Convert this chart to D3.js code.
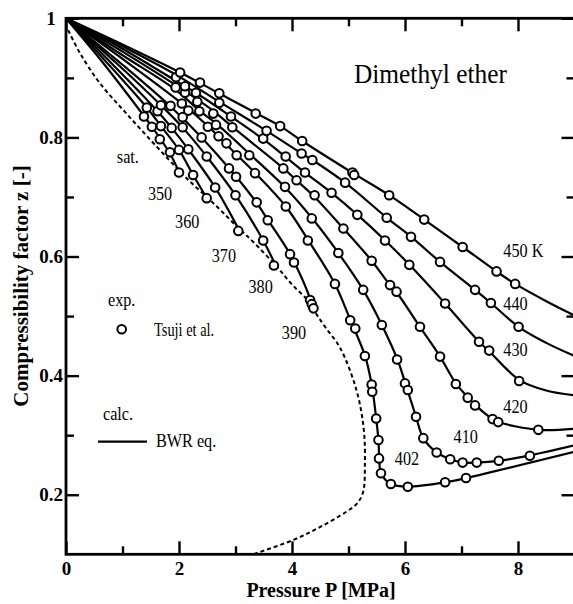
<!DOCTYPE html>
<html>
<head>
<meta charset="utf-8">
<script src="https://cdn.jsdelivr.net/npm/d3@7"></script>
<style>
  body { margin: 0; background: #fff; }
  svg text { font-family: "Liberation Serif", "Times New Roman", Times, serif; fill: #000; }
</style>
</head>
<body>
<svg id="chart" width="573" height="604" font-family="Liberation Serif, serif"></svg>
<script>
// calculated isotherms (BWR eq.), [P MPa, z]
const bwr350 = [[0,1],[0.7,.920],[1.38,.836],[1.52,.818],[1.66,.799],[1.84,.773],[2.0,.742]];
const bwr360 = [[0,1],[0.7,.928],[1.43,.850],[1.68,.819],[2.0,.779],[2.25,.737],[2.5,.697]];
const bwr370 = [[0,1],[0.8,.925],[1.62,.844],[1.87,.816],[2.165,.780],[2.64,.716],[3.06,.645]];
const bwr380 = [[0,1],[0.9,.924],[1.68,.854],[2.07,.816],[2.49,.768],[3.0,.703],[3.49,.627],[3.72,.583]];
const bwr390 = [[0,1],[1,.922],[1.85,.852],[2.4,.800],[2.95,.741],[3.375,.690],[3.57,.662],[3.965,.604],[4.2,.558],[4.39,.512]];
const bwr402 = [[0,1],[1,.932],[2.05,.857],[2.5,.820],[3.02,.771],[3.35,.740],[3.89,.684],[4.29,.627],[4.76,.554],[5.03,.494],
  [5.29,.434],[5.41,.385],[5.49,.328],[5.53,.292],[5.545,.261],[5.575,.236],[5.75,.218],[6.05,.2135],[6.71,.221],[7.08,.228],[9,.272]];
const bwr410 = [[0,1],[1,.938],[1.94,.880],[2.36,.845],[2.66,.823],[3.24,.773],[3.88,.716],[4.35,.665],[4.82,.606],[5.26,.544],
  [5.59,.485],[5.87,.426],[6.02,.383],[6.195,.331],[6.324,.295],[6.56,.271],[6.80,.2595],[7.02,.254],[7.27,.254],[7.66,.257],[8.21,.266],[9,.283]];
const bwr420 = [[0,1],[1,.944],[2.1,.878],[2.6,.845],[2.94,.818],[3.85,.748],[4.08,.728],[4.40,.700],[4.91,.647],[5.41,.593],
  [5.735,.552],[5.85,.540],[6.27,.481],[6.62,.432],[6.90,.387],[7.12,.363],[7.25,.350],[7.55,.327],[7.65,.322],[8.36,.309],[9,.311]];
const bwr430 = [[0,1],[1,.949],[2.1,.886],[2.3,.875],[2.92,.835],[3.49,.797],[3.89,.767],[4.23,.741],[4.70,.707],[5.16,.670],
  [5.65,.627],[6.08,.586],[6.71,.521],[7.31,.457],[7.49,.441],[8.02,.393],[8.5,.375],[9,.367]];
const bwr440 = [[0,1],[1,.953],[1.95,.905],[2.71,.860],[3.55,.811],[4.17,.773],[4.36,.762],[4.94,.724],[5.68,.665],[6.11,.633],
  [6.62,.591],[7.24,.544],[7.52,.522],[8.01,.482],[8.5,.455],[9,.433]];
const bwr450 = [[0,1],[1,.956],[2.02,.909],[2.71,.874],[3.36,.841],[3.79,.819],[4.18,.794],[5.08,.740],[5.72,.703],[6.34,.662],
  [7.02,.616],[7.62,.575],[7.95,.554],[8.5,.525],[9,.501]];

// experimental points (Tsuji et al.)
const exp350 = [[1.38,.835],[1.52,.818],[1.66,.797],[1.84,.775],[2.0,.741]];
const exp360 = [[1.43,.850],[1.68,.819],[2.0,.779],[2.25,.737],[2.49,.698]];
const exp370 = [[1.62,.844],[1.87,.816],[2.165,.780],[2.64,.716],[3.05,.643]];
const exp380 = [[1.68,.854],[2.065,.817],[2.49,.768],[3.0,.703],[3.49,.627],[3.68,.585]];
const exp390 = [[1.85,.853],[2.065,.834],[2.40,.800],[2.885,.748],[3.01,.734],[3.375,.691],[3.57,.661],[3.965,.604],[4.035,.590],
  [4.32,.527],[4.35,.520],[4.38,.513]];
const exp402 = [[2.05,.857],[2.165,.845],[2.51,.818],[2.70,.802],[2.84,.790],[3.02,.770],[3.345,.740],[3.89,.684],[4.28,.627],
  [4.76,.554],[5.03,.493],[5.12,.479],[5.29,.433],[5.41,.385],[5.42,.373],[5.49,.328],[5.53,.292],[5.54,.261],[5.575,.236],
  [5.75,.218],[6.05,.2135],[6.71,.221],[7.08,.228]];
const exp410 = [[1.94,.884],[2.36,.844],[2.655,.821],[3.244,.770],[3.876,.717],[4.35,.664],[4.82,.606],[5.26,.544],[5.59,.485],
  [5.86,.427],[6.0,.387],[6.05,.376],[6.195,.331],[6.324,.295],[6.56,.271],[6.80,.2595],[7.02,.254],[7.27,.254],[7.66,.257],[8.21,.2655]];
const exp420 = [[2.106,.875],[2.324,.860],[2.607,.840],[2.943,.817],[3.846,.748],[4.08,.728],[4.40,.703],[4.91,.647],[5.41,.593],
  [5.735,.552],[5.85,.541],[6.265,.482],[6.62,.432],[6.90,.386],[7.11,.363],[7.24,.350],[7.55,.327],[7.65,.322],[8.36,.309]];
const exp430 = [[2.106,.886],[2.30,.875],[2.92,.835],[3.49,.798],[3.888,.768],[4.23,.741],[4.70,.707],[5.156,.670],[5.646,.627],
  [6.076,.586],[6.71,.521],[7.31,.457],[7.49,.442],[8.02,.391]];
const exp440 = [[1.947,.901],[2.713,.858],[3.55,.811],[4.17,.773],[4.36,.762],[4.94,.724],[5.676,.665],[6.106,.633],[6.62,.591],
  [7.24,.544],[7.52,.522],[8.01,.482]];
const exp450 = [[2.02,.909],[2.372,.892],[2.713,.874],[3.357,.840],[3.79,.819],[4.18,.794],[5.07,.741],[5.10,.737],[5.72,.703],
  [6.34,.662],[7.02,.616],[7.62,.575],[7.95,.554]];

// saturation curve
const satCurve = [[0.04,.980],[0.25,.941],[0.6,.891],[1.07,.840],[1.61,.784],[2.14,.731],[2.67,.684],[3.05,.648],[3.32,.624],
  [3.73,.583],[4.0,.553],[4.3,.524],[4.44,.502],[4.6,.480],[4.85,.447],[5.14,.376],[5.27,.31],[5.29,.25],[5.26,.205],[5.15,.185],
  [4.97,.172],[4.50,.146],[4.02,.124],[3.31,.100]];

const isoLabels = ["350","360","370","380","390","402","410","420","430","440","450 K"];
const labelP = [1.45, 1.93, 2.58, 3.23, 3.82, 5.82, 6.86, 7.74, 7.74, 7.74, 7.74];
const labelZ = [.695, .648, .591, .539, .461, .250, .287, .337, .433, .510, .599];

const xTicks = [0, 2, 4, 6, 8];
const xMinor = [1, 3, 5, 7];
const yTicks = [0.2, 0.4, 0.6, 0.8, 1];
const yMinor = [0.3, 0.5, 0.7, 0.9];

const calcLines = [bwr350, bwr360, bwr370, bwr380, bwr390, bwr402, bwr410, bwr420, bwr430, bwr440, bwr450];
const expPoints = [exp350, exp360, exp370, exp380, exp390, exp402, exp410, exp420, exp430, exp440, exp450];

const svg = d3.select("#chart");
const x = d3.scaleLinear().domain([0, 9]).range([66, 574.5]);
const y = d3.scaleLinear().domain([0.1, 1]).range([554.3, 18.3]);

const line = d3.line()
  .x(d => x(d[0]))
  .y(d => y(d[1]))
  .curve(d3.curveCatmullRom.alpha(0.5));

// isotherms
svg.append("g").selectAll("path")
  .data(calcLines)
  .join("path")
  .attr("d", line)
  .attr("fill", "none")
  .attr("stroke", "#000")
  .attr("stroke-width", 2.2);

// saturation (dashed)
svg.append("path")
  .attr("d", line(satCurve))
  .attr("fill", "none")
  .attr("stroke", "#000")
  .attr("stroke-width", 2)
  .attr("stroke-dasharray", "4,3");

// experimental circles
svg.append("g").selectAll("circle")
  .data(expPoints.flat())
  .join("circle")
  .attr("cx", d => x(d[0]))
  .attr("cy", d => y(d[1]))
  .attr("r", 4.3)
  .attr("fill", "#fff")
  .attr("stroke", "#000")
  .attr("stroke-width", 2);

// axes
function tidy(g) {
  g.attr("font-family", null).attr("font-size", null);
  g.select(".domain").remove();
  g.selectAll(".tick line").attr("stroke-width", 2.4);
}
const yBot = y(0.1), yTop = y(1), xLeft = x(0), xRight = x(9);

svg.append("g").attr("transform", `translate(0,${yBot})`)
  .call(d3.axisBottom(x).tickValues(xTicks).tickSize(-13).tickPadding(7).tickFormat(d3.format("d")))
  .call(tidy)
  .selectAll("text").style("font-size", "19px").style("font-weight", "bold");
svg.append("g").attr("transform", `translate(0,${yBot})`)
  .call(d3.axisBottom(x).tickValues(xMinor).tickSize(-8).tickFormat("")).call(tidy);
svg.append("g").attr("transform", `translate(0,${yTop})`)
  .call(d3.axisTop(x).tickValues(xTicks).tickSize(-13).tickFormat("")).call(tidy);
svg.append("g").attr("transform", `translate(0,${yTop})`)
  .call(d3.axisTop(x).tickValues(xMinor).tickSize(-8).tickFormat("")).call(tidy);

svg.append("g").attr("transform", `translate(${xLeft},0)`)
  .call(d3.axisLeft(y).tickValues(yTicks).tickSize(-13).tickFormat(d => d === 1 ? "1" : d3.format(".1f")(d)))
  .call(tidy)
  .selectAll("text")
  .attr("x", -15).attr("text-anchor", "middle")
  .style("font-size", "19px").style("font-weight", "bold");
svg.append("g").attr("transform", `translate(${xLeft},0)`)
  .call(d3.axisLeft(y).tickValues(yMinor).tickSize(-8).tickFormat("")).call(tidy);
svg.append("g").attr("transform", `translate(${xRight},0)`)
  .call(d3.axisRight(y).tickValues(yTicks).tickSize(-13).tickFormat("")).call(tidy);
svg.append("g").attr("transform", `translate(${xRight},0)`)
  .call(d3.axisRight(y).tickValues(yMinor).tickSize(-8).tickFormat("")).call(tidy);

svg.append("rect")
  .attr("x", xLeft).attr("y", yTop)
  .attr("width", xRight - xLeft).attr("height", yBot - yTop)
  .attr("fill", "none").attr("stroke", "#000").attr("stroke-width", 2.8);

// axis titles
svg.append("text")
  .attr("x", 321).attr("y", 597)
  .attr("text-anchor", "middle")
  .style("font-size", "20px").style("font-weight", "bold")
  .text("Pressure P [MPa]");
svg.append("text")
  .attr("transform", "translate(28,286) rotate(-90)")
  .attr("text-anchor", "middle")
  .style("font-size", "21px").style("font-weight", "bold")
  .text("Compressibility factor z [-]");

// squeezed serif labels
function label(px, py, txt, size, sx) {
  svg.append("text")
    .attr("transform", `translate(${px},${py}) scale(${sx},1)`)
    .style("font-size", size + "px")
    .text(txt);
}

label(354, 83, "Dimethyl ether", 27, 0.94);
isoLabels.forEach((t, i) => label(x(labelP[i]), y(labelZ[i]), t, 18, 0.9));
label(x(0.9), y(0.757), "sat.", 18, 0.9);

// legend
label(108, 306, "exp.", 18, 0.9);
svg.append("circle")
  .attr("cx", 121.7).attr("cy", 329.3).attr("r", 4.3)
  .attr("fill", "#fff").attr("stroke", "#000").attr("stroke-width", 2);
label(154, 336, "Tsuji et al.", 18, 0.8);
label(103, 420, "calc.", 18, 0.9);
svg.append("line")
  .attr("x1", 98).attr("x2", 147).attr("y1", 441.7).attr("y2", 441.7)
  .attr("stroke", "#000").attr("stroke-width", 2.2);
label(156, 447, "BWR eq.", 18, 0.9);
</script>
</body>
</html>
